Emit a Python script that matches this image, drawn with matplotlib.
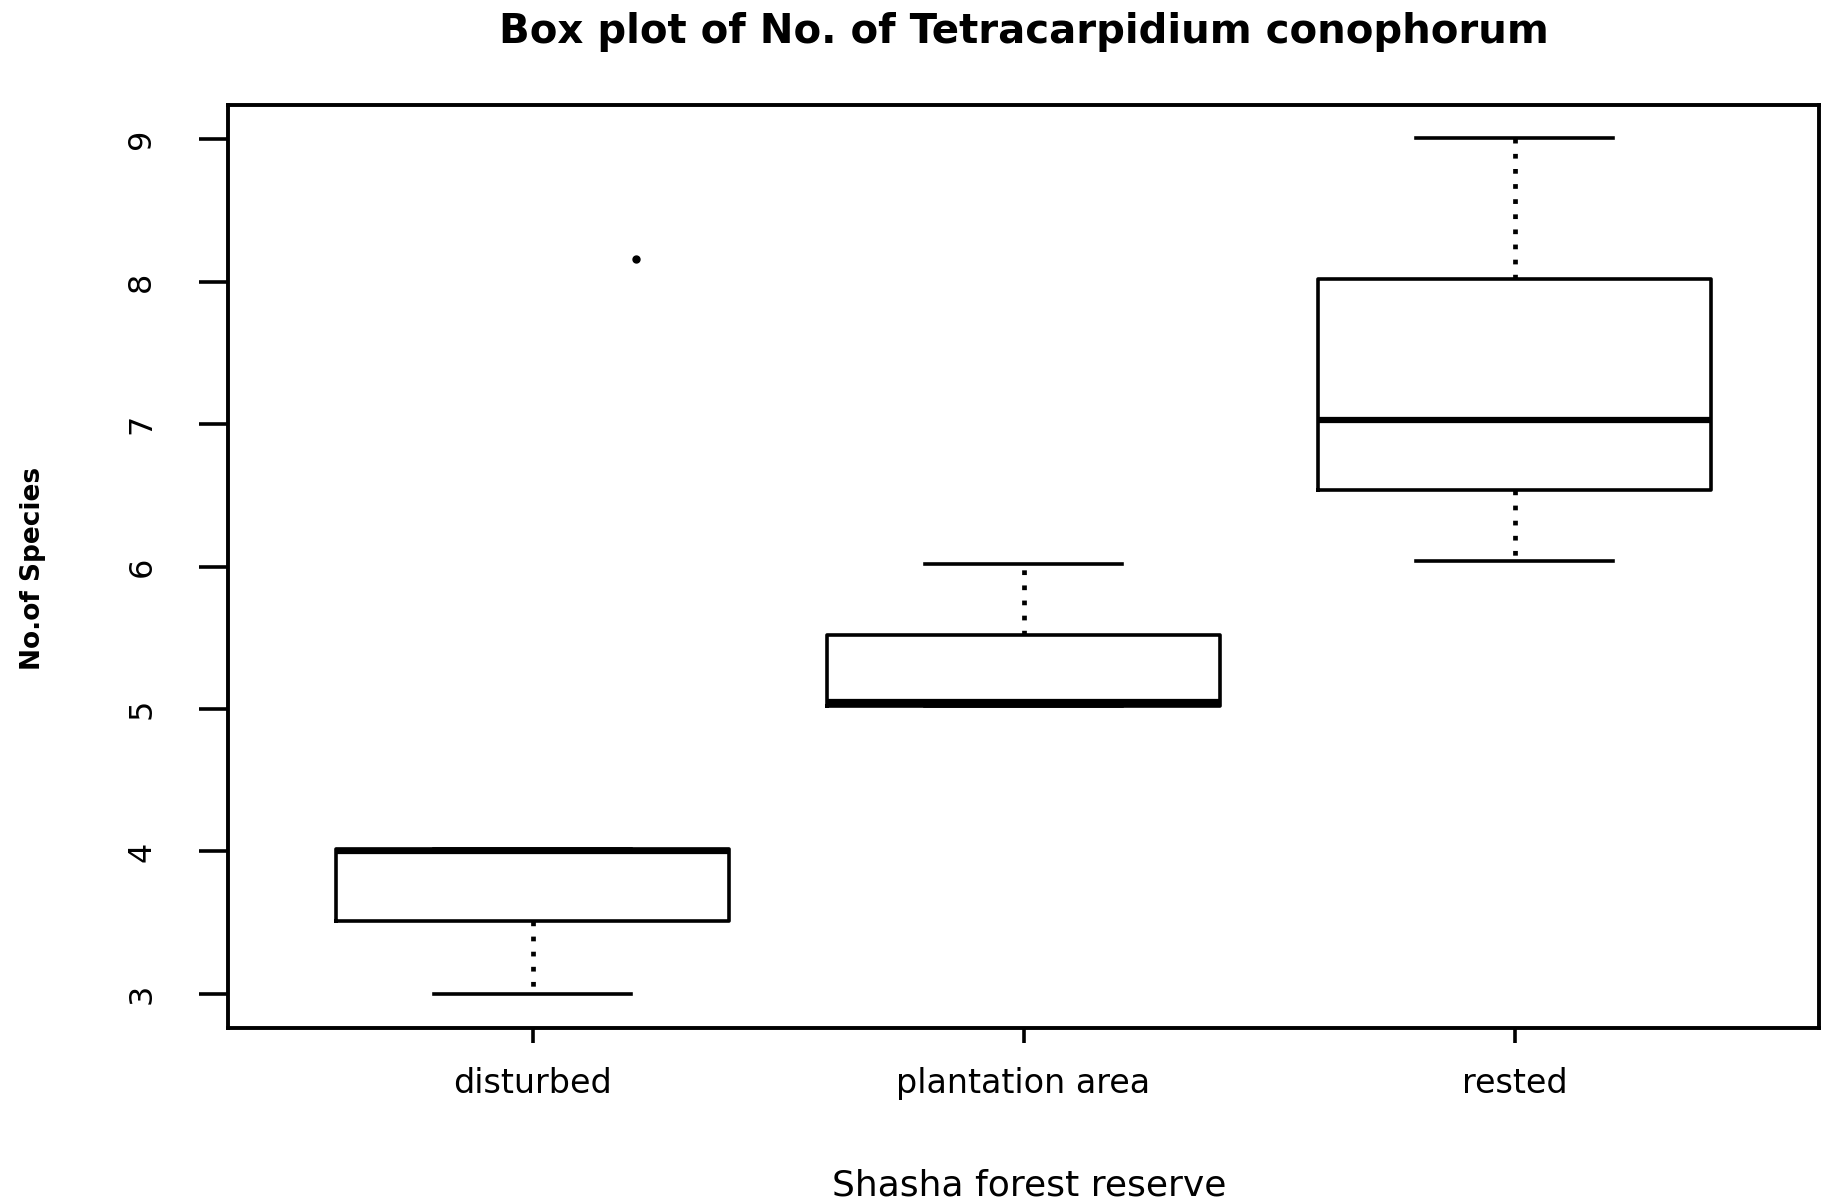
# -*- coding: utf-8 -*-

import numpy as np
import matplotlib
matplotlib.use('Agg')
import matplotlib.pyplot as plt

# values
sites = ['disturbed', 'plantation area', 'rested']
whisker_low = [3.0, 5.02, 6.04]
q1 = [3.51, 5.02, 6.54]
medians = [4.0, 5.05, 7.03]
q3 = [4.02, 5.52, 8.02]
whisker_high = [4.02, 6.02, 9.01]
# the single outlier sits a little right of the disturbed box in the scan
outlier_x = [1.21]
outlier_y = [8.16]
y_ticks = [3, 4, 5, 6, 7, 8, 9]

plt.rcParams['font.family'] = ['DejaVu Sans']

fig = plt.figure(figsize=(18.32, 12.01), dpi=100)
ax = fig.add_axes([0.1245, 0.144, 0.8684, 0.7686])

stats = []
for i in range(len(sites)):
    stats.append(dict(med=medians[i], q1=q1[i], q3=q3[i],
                      whislo=whisker_low[i], whishi=whisker_high[i], fliers=[]))

positions = np.arange(1, len(sites) + 1)
ax.bxp(stats, positions=positions, widths=0.8, capwidths=0.4, showfliers=False,
       boxprops=dict(color='black', linewidth=2.6),
       medianprops=dict(color='black', linewidth=4.5, solid_capstyle='butt'),
       whiskerprops=dict(color='black', linewidth=3.4, linestyle=(0, (1, 2.2))),
       capprops=dict(color='black', linewidth=2.6))

ax.plot(outlier_x, outlier_y, 'o', color='black', markersize=5)

ax.set_xlim(0.38, 3.62)
ax.set_ylim(2.76, 9.24)

ax.set_xticks(positions)
ax.set_xticklabels(sites, fontsize=24)
ax.set_yticks(y_ticks)
ax.set_yticklabels([str(t) for t in y_ticks], fontsize=23, rotation=90, va='center')

ax.tick_params(axis='x', length=11, width=2.6, pad=17)
ax.tick_params(axis='y', length=21, width=2.6, pad=30)
for s in ax.spines.values():
    s.set_linewidth(2.8)

fig.text(0.559, 0.973, 'Box plot of No. of Tetracarpidium conophorum',
         ha='center', va='center', fontsize=29, fontweight='bold')
fig.text(0.5617, 0.013, 'Shasha forest reserve', ha='center', va='center', fontsize=26)
fig.text(0.018, 0.527, 'No.of Species', ha='center', va='center', rotation=90,
         fontsize=19, fontweight='bold')

fig.savefig('out.png', dpi=100, facecolor='white')
